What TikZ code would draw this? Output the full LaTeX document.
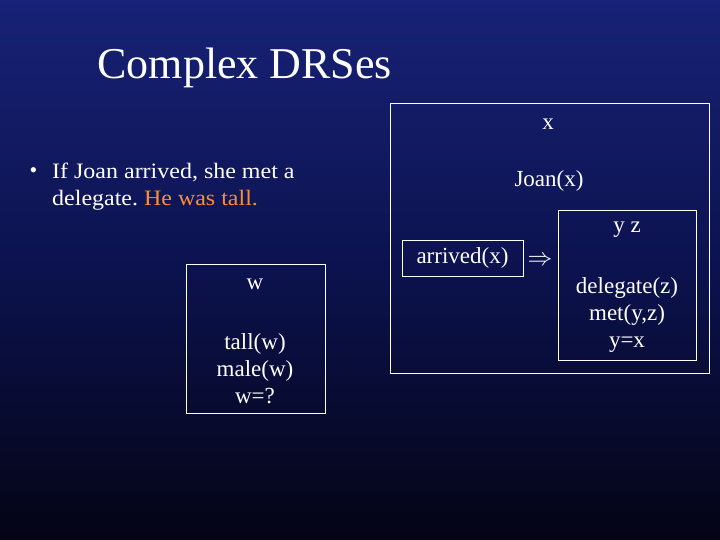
\documentclass[tikz,border=0pt]{standalone}
\usepackage{fontspec}
\setmainfont{Liberation Serif}
\usepackage{amssymb}
\begin{document}
\frenchspacing
\begin{tikzpicture}[x=1pt,y=-1pt,
  box/.style={draw=white,line width=0.8pt},
  txt/.style={text=white,font=\fontsize{23}{27}\selectfont,inner sep=0pt,align=center}]
\useasboundingbox (0,0) rectangle (720,540);
\shade[top color={rgb,255:red,24;green,34;blue,118},bottom color={rgb,255:red,4;green,4;blue,20},middle color={rgb,255:red,12;green,18;blue,78}] (0,0) rectangle (720,540);
\node[text=white,font=\fontsize{44}{50}\selectfont,anchor=west] (title) at (94,68) {Complex DRSes};
\node[text=white,font=\fontsize{22}{26}\selectfont,anchor=west] (bul) at (26,173) {\textbullet};
\node[text=white,font=\fontsize{22}{27}\selectfont,anchor=north west,align=left,inner sep=0pt] (sent) at (52,163)
  {\scalebox{1.09}[1]{If Joan arrived, she met a}\\\scalebox{1.09}[1]{delegate. \textcolor[RGB]{255,140,50}{He was tall.}}};
% left DRS
\draw[box] (186,264) rectangle (325,413);
\node[txt] (w) at (255,284) {w};
\node[txt] (wc) at (255,369) {tall(w)\\male(w)\\w=?};
% big DRS
\draw[box] (390,103) rectangle (709,373);
\node[txt] (x) at (548,124) {x};
\node[txt] (joan) at (549,181) {Joan(x)};
\node[txt,draw=white,line width=0.8pt,minimum width=121pt,minimum height=36pt] (arr) at (462.5,258) {arrived(x)};
\node[txt] (imp) at (540,261) {$\Rightarrow$};
\draw[box] (558,210) rectangle (696,360);
\node[txt] (yz) at (627,230) {y z};
\node[txt] (cond) at (627,315) {delegate(z)\\met(y,z)\\y=x};
\end{tikzpicture}
\end{document}
